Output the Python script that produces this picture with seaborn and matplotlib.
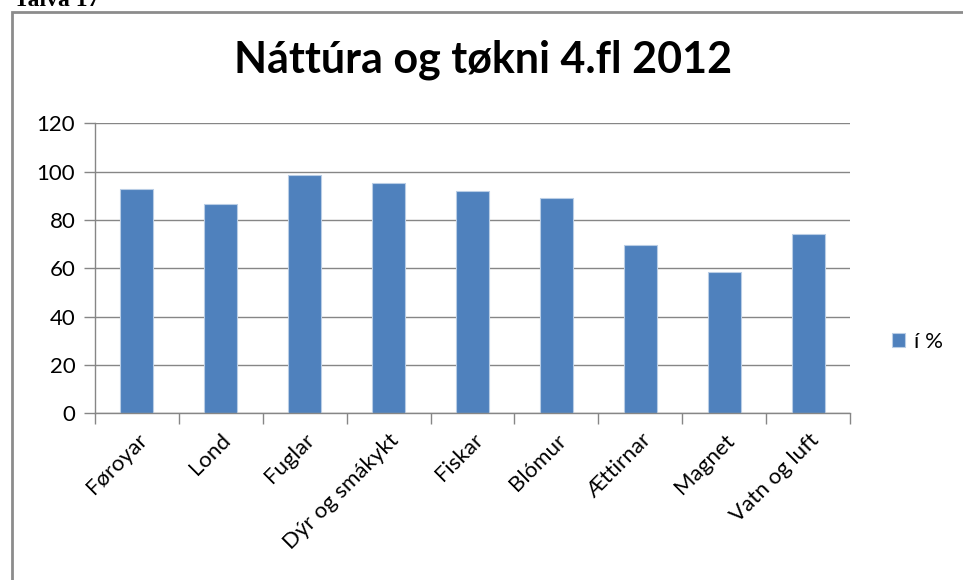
import numpy as np
import pandas as pd
import matplotlib
matplotlib.use("Agg")
import matplotlib.pyplot as plt
import seaborn as sns
from matplotlib.patches import Rectangle

categories = ["Føroyar", "Lond", "Fuglar", "Dýr og smákykt", "Fiskar",
              "Blómur", "Ættirnar", "Magnet", "Vatn og luft"]
values = [92.7, 86.7, 98.5, 95.3, 92.1, 89.0, 69.8, 58.6, 74.1]
series_name = "í %"
title = "Náttúra og tøkni 4.fl 2012"
y_ticks = [0, 20, 40, 60, 80, 100, 120]

BAR_COLOR = "#4F81BD"
GRID_COLOR = "#868686"

sns.set_style("white")
plt.rcParams["font.family"] = ["Lato", "DejaVu Sans"]
plt.rcParams["text.color"] = "black"
plt.rcParams["xtick.color"] = "black"
plt.rcParams["ytick.color"] = "black"

df = pd.DataFrame({"kategori": categories, "virdi": values})

fig = plt.figure(figsize=(9.63, 5.80), dpi=100)
ax = fig.add_axes([94.7 / 963, 1 - 413.3 / 580, (850.3 - 94.7) / 963, 290 / 580])

sns.barplot(data=df, x="kategori", y="virdi", color=BAR_COLOR, width=0.39,
            saturation=1, edgecolor="#b9cde5", linewidth=0.8, label=series_name, ax=ax)

ax.set_ylim(0, 120)
ax.set_xlim(-0.5, len(categories) - 0.5)
ax.set_yticks(y_ticks)
ax.set_yticklabels([str(t) for t in y_ticks], fontsize=16)
ax.yaxis.grid(True, color=GRID_COLOR, linewidth=1)
ax.set_axisbelow(True)
ax.set_xlabel("")
ax.set_ylabel("")

for side in ["top", "right"]:
    ax.spines[side].set_visible(False)
for side in ["left", "bottom"]:
    ax.spines[side].set_color(GRID_COLOR)
    ax.spines[side].set_linewidth(1)

ax.tick_params(axis="y", length=8, width=1, color=GRID_COLOR, pad=6, left=True)
# Excel style: ticks sit between categories
ax.set_xticks(np.arange(-0.5, len(categories), 1.0), minor=True)
ax.tick_params(axis="x", which="minor", length=8, width=1, color=GRID_COLOR, bottom=True)
ax.tick_params(axis="x", which="major", length=0, pad=12)
ax.set_xticks(range(len(categories)))
ax.set_xticklabels(categories, rotation=45, ha="right", rotation_mode="anchor",
                   fontsize=16)

leg = ax.legend(loc="center left", bbox_to_anchor=(1.055, 0.245), frameon=False,
                borderaxespad=0, borderpad=0,
                fontsize=16, handlelength=0.6, handleheight=0.6, handletextpad=0.4)

fig.text(483 / 963, 1 - 73 / 580, title, ha="center", va="baseline",
         fontsize=31, fontweight="bold")

# chart frame and caption cut off at top
fig.patches.append(Rectangle((12 / 963, -0.1), 1.2, 1 - 11.5 / 580 + 0.1,
                             transform=fig.transFigure, fill=False,
                             edgecolor="#8c8c8c", linewidth=2))
fig.text(14 / 963, 1 - 6 / 580, "Talva 17", ha="left", va="baseline",
         fontsize=17, fontweight="bold", family="Liberation Serif")

fig.savefig("out.png", dpi=100)
